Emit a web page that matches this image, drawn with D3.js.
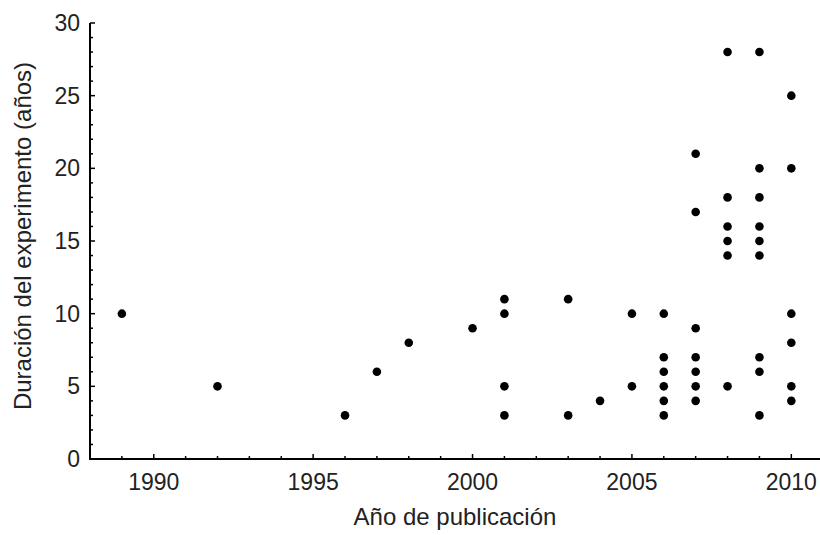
<!DOCTYPE html>
<html>
<head>
<meta charset="utf-8">
<script src="https://cdn.jsdelivr.net/npm/d3@7.9.0/dist/d3.min.js"></script>
<style>
  body { margin: 0; background: #fff; }
  svg { display: block; font-family: "Liberation Sans", Arial, sans-serif; }
</style>
</head>
<body>
<svg id="chart" width="820" height="535"></svg>
<script>
// publication year -> experiment durations (years)
const years = [1989, 1992, 1996, 1997, 1998, 2000, 2001, 2003, 2004, 2005, 2006, 2007, 2008, 2009, 2010];
const durations = [
  [10],
  [5],
  [3],
  [6],
  [8],
  [9],
  [11, 10, 5, 3],
  [11, 3],
  [4],
  [10, 5],
  [10, 7, 6, 5, 4, 3],
  [21, 17, 9, 7, 6, 5, 4],
  [28, 18, 16, 15, 14, 5],
  [28, 20, 18, 16, 15, 14, 7, 6, 3],
  [25, 20, 10, 8, 5, 4]
];
const xTicks = [1990, 1995, 2000, 2005, 2010];
const yTicks = [0, 5, 10, 15, 20, 25, 30];

const points = [];
years.forEach((yr, i) => durations[i].forEach(d => points.push({ year: yr, dur: d })));

const svg = d3.select("#chart");
const x = d3.scaleLinear().domain([1988, 2010.9]).range([90, 820]);
const y = d3.scaleLinear().domain([0, 30]).range([459, 23]);

// x axis
const gx = svg.append("g").attr("transform", "translate(0,459)");
gx.append("line").attr("x1", 89).attr("x2", 820).attr("stroke", "#000").attr("stroke-width", 2);
gx.selectAll(".minor").data(d3.range(1989, 2011)).join("line")
  .attr("x1", d => x(d)).attr("x2", d => x(d))
  .attr("y1", 0).attr("y2", d => xTicks.includes(d) ? -5 : -3)
  .attr("stroke", "#000").attr("stroke-width", 1.5);
gx.selectAll("text").data(xTicks).join("text")
  .attr("x", d => x(d)).attr("y", 31)
  .attr("text-anchor", "middle").attr("font-size", 23).attr("fill", "#222")
  .text(d => d);

// y axis
const gy = svg.append("g").attr("transform", "translate(90,0)");
gy.append("line").attr("y1", y(30)).attr("y2", 460).attr("stroke", "#000").attr("stroke-width", 2);
gy.selectAll(".minor").data(d3.range(1, 31)).join("line")
  .attr("y1", d => y(d)).attr("y2", d => y(d))
  .attr("x1", 0).attr("x2", d => yTicks.includes(d) ? 5 : 3)
  .attr("stroke", "#000").attr("stroke-width", 1.5);
gy.selectAll("text").data(yTicks).join("text")
  .attr("x", -10).attr("y", d => y(d)).attr("dy", "0.35em")
  .attr("text-anchor", "end").attr("font-size", 23).attr("fill", "#222")
  .text(d => d);

// axis titles
svg.append("text")
  .attr("x", 455).attr("y", 525)
  .attr("text-anchor", "middle").attr("font-size", 24).attr("fill", "#222")
  .text("Año de publicación");
svg.append("text")
  .attr("transform", "translate(31,236) rotate(-90)")
  .attr("text-anchor", "middle").attr("font-size", 24).attr("fill", "#222")
  .text("Duración del experimento (años)");

// points
svg.append("g").selectAll("circle").data(points).join("circle")
  .attr("cx", d => x(d.year)).attr("cy", d => y(d.dur))
  .attr("r", 4.3).attr("fill", "#000");
</script>
</body>
</html>
